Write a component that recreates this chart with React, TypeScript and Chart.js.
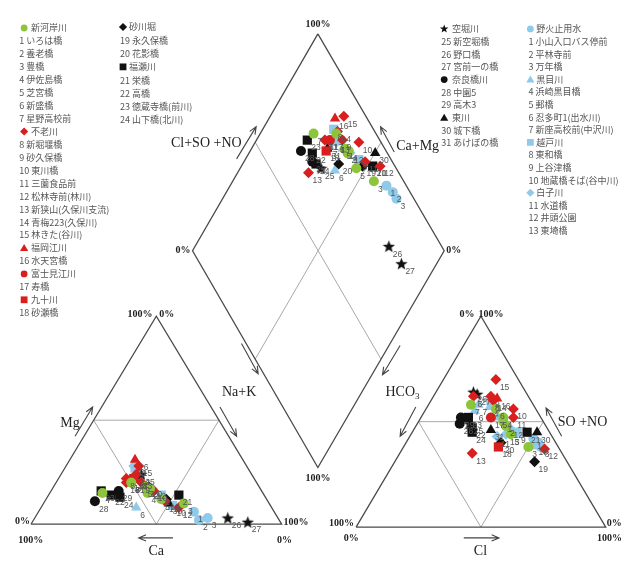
import React, { useEffect, useRef } from "react";
import { Chart, registerables } from "chart.js";

Chart.register(...registerables);

// ---- colours ----
const GREEN = "#8cc43c";
const RED = "#d91e1e";
const BLACK = "#111111";
const BLUE = "#8fcaea";

// ---- river groups (legend headers) ----
const groupNames = [
  "新河岸川", "不老川", "福岡江川", "富士見江川", "九十川",
  "砂川堀", "福瀬川",
  "空堀川", "奈良橋川", "東川",
  "野火止用水", "黒目川", "越戸川", "白子川",
];
const groupShapes = [
  "circle", "rectRot", "triangle", "circle", "rect",
  "rectRot", "rect",
  "star", "circle", "triangle",
  "circle", "triangle", "rect", "rectRot",
];
const groupColors = [
  GREEN, RED, RED, RED, RED,
  BLACK, BLACK,
  BLACK, BLACK, BLACK,
  BLUE, BLUE, BLUE, BLUE,
];

// ---- sampling stations ----
const stationNumbers = [
  1, 2, 3, 4, 5, 6, 7,
  8, 9, 10, 11, 12, 13, 14, 15,
  16, 17, 18,
  19, 20,
  21, 22, 23, 24,
  25, 26, 27,
  28, 29,
  30, 31,
  1, 2, 3,
  4, 5, 6, 7,
  8, 9, 10,
  11, 12, 13,
];
const stationNames = [
  "いろは橋", "養老橋", "豊橋", "伊佐島橋", "芝宮橋", "新盛橋", "星野高校前",
  "新堀堰橋", "砂久保橋", "東川橋", "三薗食品前", "松林寺前(林川)", "新狭山(久保川支流)", "青梅223(久保川)", "林きた(谷川)",
  "水天宮橋", "寿橋", "砂瀬橋",
  "永久保橋", "花影橋",
  "栄橋", "高橋", "徳蔵寺橋(前川)", "山下橋(北川)",
  "新空堀橋", "野口橋", "宮前一の橋",
  "中園5", "高木3",
  "城下橋", "あけぼの橋",
  "小山入口バス停前", "平林寺前", "万年橋",
  "浜崎黒目橋", "郵橋", "忍多町1(出水川)", "新座高校前(中沢川)",
  "東和橋", "上谷津橋", "地蔵橋そば(谷中川)",
  "水道橋", "井頭公園", "東埼橋",
];
const stationGroups = [
  0, 0, 0, 0, 0, 0, 0,
  1, 1, 1, 1, 1, 1, 1, 1,
  2, 3, 4,
  5, 5,
  6, 6, 6, 6,
  7, 7, 7,
  8, 8,
  9, 9,
  10, 10, 10,
  11, 11, 11, 11,
  12, 12, 12,
  13, 13, 13,
];

// cations (% meq): Ca, Mg  (Na+K is the remainder)
const caPct = [
  45, 44, 34, 46, 42, 50, 64,
  51, 46, 43, 41, 37, 52, 46, 43,
  43, 50, 48,
  40, 44,
  34, 61, 64, 58,
  44, 20, 13,
  69, 57,
  40, 50,
  32, 32, 28,
  46, 46, 54, 50,
  45, 41, 39,
  45, 43, 46,
];
const mgPct = [
  18, 17, 10, 15, 12, 20, 15,
  22, 20, 16, 11, 8, 20, 24, 28,
  31, 21, 22,
  12, 18,
  14, 14, 16, 13,
  24, 3, 1,
  11, 16,
  10, 20,
  6, 2, 3,
  22, 18, 8, 20,
  27, 14, 9,
  28, 17, 22,
];
// anions (% meq): Cl, SO4+NO3  (HCO3 is the remainder)
const clPct = [
  34, 36, 50, 33, 40, 28, 17,
  16, 23, 35, 37, 57, 29, 25, 21,
  26, 28, 38,
  56, 38,
  46, 23, 19, 24,
  21, 15, 17,
  17, 16,
  50, 31,
  50, 53, 55,
  25, 31, 20, 20,
  24, 42, 52,
  35, 38, 38,
];
const so4no3Pct = [
  50, 48, 38, 52, 44, 56, 58,
  62, 62, 56, 52, 37, 35, 60, 70,
  61, 52, 38,
  31, 40,
  45, 47, 52, 45,
  49, 64, 63,
  49, 52,
  45, 46,
  42, 40, 38,
  57, 52, 55, 58,
  60, 45, 39,
  43, 47, 44,
];

// legend columns: which groups go in each column
const legendColumns = [[0, 1, 2, 3, 4], [5, 6], [7, 8, 9], [10, 11, 12, 13]];
const legendLayout = [
  { numX: 13, markerX: 18, textX: 25, y0: 22, step: 13.25 },
  { numX: 116, markerX: 119, textX: 125, y0: 21, step: 13.6 },
  { numX: 444, markerX: 447, textX: 455, y0: 23, step: 12.96 },
  { numX: 533, markerX: 535, textX: 541, y0: 23, step: 12.9 },
];

// ---- diagram geometry (chart units, y grows downward) ----
const CAT = { left: 25, right: 281, base: 530, apex: 317 };
const ANI = { left: 357, right: 612, base: 533, apex: 317 };
const DIA = { left: 190, right: 447, cx: 318, top: 28, mid: 250, bottom: 472 };

function cationXY(ca: number, mg: number) {
  const nak = 100 - ca - mg;
  const w = CAT.right - CAT.left;
  const h = CAT.base - CAT.apex;
  return { x: CAT.left + ((nak + mg / 2) / 100) * w, y: CAT.base - (mg / 100) * h };
}
function anionXY(cl: number, so4: number) {
  const w = ANI.right - ANI.left;
  const h = ANI.base - ANI.apex;
  return { x: ANI.left + ((cl + so4 / 2) / 100) * w, y: ANI.base - (so4 / 100) * h };
}
function diamondXY(clso4: number, camg: number) {
  const a = clso4 / 100;
  const c = camg / 100;
  return {
    x: DIA.cx + a * (DIA.right - DIA.cx) - c * (DIA.cx - DIA.left),
    y: DIA.bottom - ((a + c) * (DIA.bottom - DIA.top)) / 2,
  };
}

function markerPath(ctx: CanvasRenderingContext2D, shape: string, x: number, y: number, r: number) {
  ctx.beginPath();
  if (shape === "circle") {
    ctx.arc(x, y, r, 0, Math.PI * 2);
  } else if (shape === "rect") {
    ctx.rect(x - r, y - r, 2 * r, 2 * r);
  } else if (shape === "rectRot") {
    ctx.moveTo(x, y - r * 1.2);
    ctx.lineTo(x + r * 1.2, y);
    ctx.lineTo(x, y + r * 1.2);
    ctx.lineTo(x - r * 1.2, y);
  } else if (shape === "triangle") {
    ctx.moveTo(x, y - r * 1.15);
    ctx.lineTo(x + r * 1.2, y + r * 0.9);
    ctx.lineTo(x - r * 1.2, y + r * 0.9);
  } else {
    for (let i = 0; i < 10; i++) {
      const rr = i % 2 === 0 ? r * 1.3 : r * 0.55;
      const ang = -Math.PI / 2 + (i * Math.PI) / 5;
      const px = x + rr * Math.cos(ang);
      const py = y + rr * Math.sin(ang);
      if (i === 0) ctx.moveTo(px, py);
      else ctx.lineTo(px, py);
    }
  }
  ctx.closePath();
}

function makeStar(color: string) {
  const c = document.createElement("canvas");
  c.width = 13;
  c.height = 13;
  const g = c.getContext("2d")!;
  g.fillStyle = color;
  markerPath(g, "star", 6.5, 7, 5);
  g.fill();
  return c;
}

const pointRadius: Record<string, number> = { circle: 5, rect: 6.5, rectRot: 5.5, triangle: 6 };

const frameLines: number[][] = [
  // cation triangle
  [CAT.left, CAT.base, (CAT.left + CAT.right) / 2, CAT.apex, CAT.right, CAT.base, CAT.left, CAT.base],
  // anion triangle
  [ANI.left, ANI.base, (ANI.left + ANI.right) / 2, ANI.apex, ANI.right, ANI.base, ANI.left, ANI.base],
  // diamond
  [DIA.cx, DIA.top, DIA.right, DIA.mid, DIA.cx, DIA.bottom, DIA.left, DIA.mid, DIA.cx, DIA.top],
];

function innerLines(): number[][] {
  const tri = (t: { left: number; right: number; base: number; apex: number }) => {
    const ax = (t.left + t.right) / 2;
    const ml = { x: (t.left + ax) / 2, y: (t.base + t.apex) / 2 };
    const mr = { x: (t.right + ax) / 2, y: (t.base + t.apex) / 2 };
    const mb = { x: ax, y: t.base };
    return [ml.x, ml.y, mr.x, mr.y, mb.x, mb.y, ml.x, ml.y];
  };
  const ul = { x: (DIA.left + DIA.cx) / 2, y: (DIA.mid + DIA.top) / 2 };
  const ur = { x: (DIA.right + DIA.cx) / 2, y: (DIA.mid + DIA.top) / 2 };
  const ll = { x: (DIA.left + DIA.cx) / 2, y: (DIA.mid + DIA.bottom) / 2 };
  const lr = { x: (DIA.right + DIA.cx) / 2, y: (DIA.mid + DIA.bottom) / 2 };
  return [tri(CAT), tri(ANI), [ul.x, ul.y, lr.x, lr.y], [ur.x, ur.y, ll.x, ll.y]];
}

// arrows: tail x, tail y, head x, head y
const arrows = [
  [235, 156, 255, 123],
  [396, 149, 382, 123],
  [240, 345, 257, 376],
  [218, 410, 235, 440],
  [402, 347, 384, 377],
  [418, 410, 402, 440],
  [567, 440, 551, 411],
  [70, 440, 88, 410],
  [170, 544, 135, 544],
  [467, 544, 503, 544],
];

const PCT_FONT = 'bold 10px "Liberation Serif", "DejaVu Serif", serif';
const AXIS_FONT = '14px "Liberation Serif", "DejaVu Serif", serif';
// [text, x, y, align, font]
const frameTexts: [string, number, number, CanvasTextAlign, string][] = [
  ["100%", 149, 315, "right", PCT_FONT],
  ["0%", 156, 315, "left", PCT_FONT],
  ["0%", 24, 527, "right", PCT_FONT],
  ["100%", 12, 547, "left", PCT_FONT],
  ["100%", 283, 528, "left", PCT_FONT],
  ["0%", 284, 547, "center", PCT_FONT],
  ["0%", 478, 315, "right", PCT_FONT],
  ["100%", 482, 315, "left", PCT_FONT],
  ["100%", 355, 529, "right", PCT_FONT],
  ["0%", 352, 545, "center", PCT_FONT],
  ["0%", 613, 529, "left", PCT_FONT],
  ["100%", 603, 545, "left", PCT_FONT],
  ["100%", 318, 18, "center", PCT_FONT],
  ["0%", 188, 250, "right", PCT_FONT],
  ["0%", 449, 250, "left", PCT_FONT],
  ["100%", 318, 483, "center", PCT_FONT],
  ["Cl+SO +NO", 168, 140, "left", AXIS_FONT],
  ["Ca+Mg", 398, 143, "left", AXIS_FONT],
  ["Na+K", 220, 395, "left", AXIS_FONT],
  ["SO +NO", 563, 426, "left", AXIS_FONT],
  ["Mg", 55, 427, "left", AXIS_FONT],
  ["Ca", 153, 558, "center", AXIS_FONT],
  ["Cl", 484, 558, "center", AXIS_FONT],
];

const piperFrame = {
  id: "piperFrame",
  beforeDatasetsDraw(chart: any) {
    const { ctx } = chart;
    const sx = (v: number) => chart.scales.x.getPixelForValue(v);
    const sy = (v: number) => chart.scales.y.getPixelForValue(v);
    const poly = (pts: number[]) => {
      ctx.beginPath();
      ctx.moveTo(sx(pts[0]), sy(pts[1]));
      for (let i = 2; i < pts.length; i += 2) ctx.lineTo(sx(pts[i]), sy(pts[i + 1]));
      ctx.stroke();
    };
    ctx.save();
    ctx.lineJoin = "miter";
    ctx.strokeStyle = "#a8a8a8";
    ctx.lineWidth = 1;
    innerLines().forEach(poly);
    ctx.strokeStyle = "#4a4a4a";
    ctx.lineWidth = 1.3;
    frameLines.forEach(poly);

    // arrows
    ctx.strokeStyle = "#444";
    ctx.lineWidth = 1.1;
    arrows.forEach(([x1, y1, x2, y2]) => {
      const X1 = sx(x1), Y1 = sy(y1), X2 = sx(x2), Y2 = sy(y2);
      const ang = Math.atan2(Y2 - Y1, X2 - X1);
      ctx.beginPath();
      ctx.moveTo(X1, Y1);
      ctx.lineTo(X2, Y2);
      ctx.moveTo(X2 - 8 * Math.cos(ang - 0.4), Y2 - 8 * Math.sin(ang - 0.4));
      ctx.lineTo(X2, Y2);
      ctx.lineTo(X2 - 8 * Math.cos(ang + 0.4), Y2 - 8 * Math.sin(ang + 0.4));
      ctx.stroke();
    });

    // axis and percent texts
    ctx.fillStyle = "#222";
    ctx.textBaseline = "middle";
    frameTexts.forEach(([t, x, y, align, font]) => {
      ctx.font = font;
      ctx.textAlign = align;
      ctx.fillText(t, sx(x), sy(y));
    });
    // HCO3 with subscript
    ctx.font = AXIS_FONT;
    ctx.textAlign = "left";
    ctx.fillText("HCO", sx(387), sy(395));
    const w = ctx.measureText("HCO").width;
    ctx.font = '9px "Liberation Serif", "DejaVu Serif", serif';
    ctx.fillText("3", sx(387) + w, sy(399));

    // legend
    legendColumns.forEach((groups, ci) => {
      const L = legendLayout[ci];
      let row = 0;
      groups.forEach((g) => {
        const y = sy(L.y0 + row * L.step);
        ctx.fillStyle = groupColors[g];
        markerPath(ctx, groupShapes[g], sx(L.markerX), y, 3.4);
        ctx.fill();
        ctx.fillStyle = "#555";
        ctx.font = '9px "Noto Sans CJK JP", sans-serif';
        ctx.textAlign = "left";
        ctx.fillText(groupNames[g], sx(L.textX), y);
        row++;
        stationGroups.forEach((sg, si) => {
          if (sg !== g) return;
          const yy = sy(L.y0 + row * L.step);
          ctx.fillText(`${stationNumbers[si]} ${stationNames[si]}`, sx(L.numX), yy);
          row++;
        });
      });
    });
    ctx.restore();
  },
  afterDatasetsDraw(chart: any) {
    const { ctx } = chart;
    ctx.save();
    ctx.fillStyle = "#555";
    ctx.font = '8.5px "Liberation Sans", "DejaVu Sans", sans-serif';
    ctx.textAlign = "left";
    ctx.textBaseline = "middle";
    chart.data.datasets.forEach((ds: any, di: number) => {
      const meta = chart.getDatasetMeta(di);
      meta.data.forEach((el: any, i: number) => {
        ctx.fillText(String(ds.data[i].n), el.x + 4, el.y + 8);
      });
    });
    ctx.restore();
  },
};

export default function App() {
  const ref = useRef<HTMLCanvasElement>(null);
  useEffect(() => {
    if (!ref.current) return;
    const datasets = groupNames.map((name, g) => {
      const data: { x: number; y: number; n: number }[] = [];
      stationGroups.forEach((sg, i) => {
        if (sg !== g) return;
        const ca = caPct[i];
        const mg = mgPct[i];
        const cl = clPct[i];
        const so4 = so4no3Pct[i];
        const p1 = cationXY(ca, mg);
        const p2 = anionXY(cl, so4);
        const p3 = diamondXY(cl + so4, ca + mg);
        data.push({ ...p1, n: stationNumbers[i] }, { ...p2, n: stationNumbers[i] }, { ...p3, n: stationNumbers[i] });
      });
      const shape = groupShapes[g];
      return {
        label: name,
        data,
        pointStyle: shape === "star" ? makeStar(groupColors[g]) : shape,
        pointRadius: pointRadius[shape] ?? 5,
        backgroundColor: groupColors[g],
        borderColor: groupColors[g],
        borderWidth: 0,
        showLine: false,
        clip: false,
      };
    });
    const chart = new Chart(ref.current, {
      type: "scatter",
      data: { datasets: datasets as any },
      options: {
        responsive: false,
        animation: false,
        events: [],
        layout: { padding: 0 },
        plugins: { legend: { display: false }, tooltip: { enabled: false } },
        scales: {
          x: { type: "linear", min: 0, max: 624, display: false },
          y: { type: "linear", min: 0, max: 561, reverse: true, display: false },
        },
      },
      plugins: [piperFrame],
    });
    return () => chart.destroy();
  }, []);
  return (
    <div style={{ position: "absolute", left: 0, top: 0, width: 624, height: 561, background: "#fff" }}>
      <canvas ref={ref} width={624} height={561} style={{ display: "block", width: 624, height: 561 }} />
    </div>
  );
}
